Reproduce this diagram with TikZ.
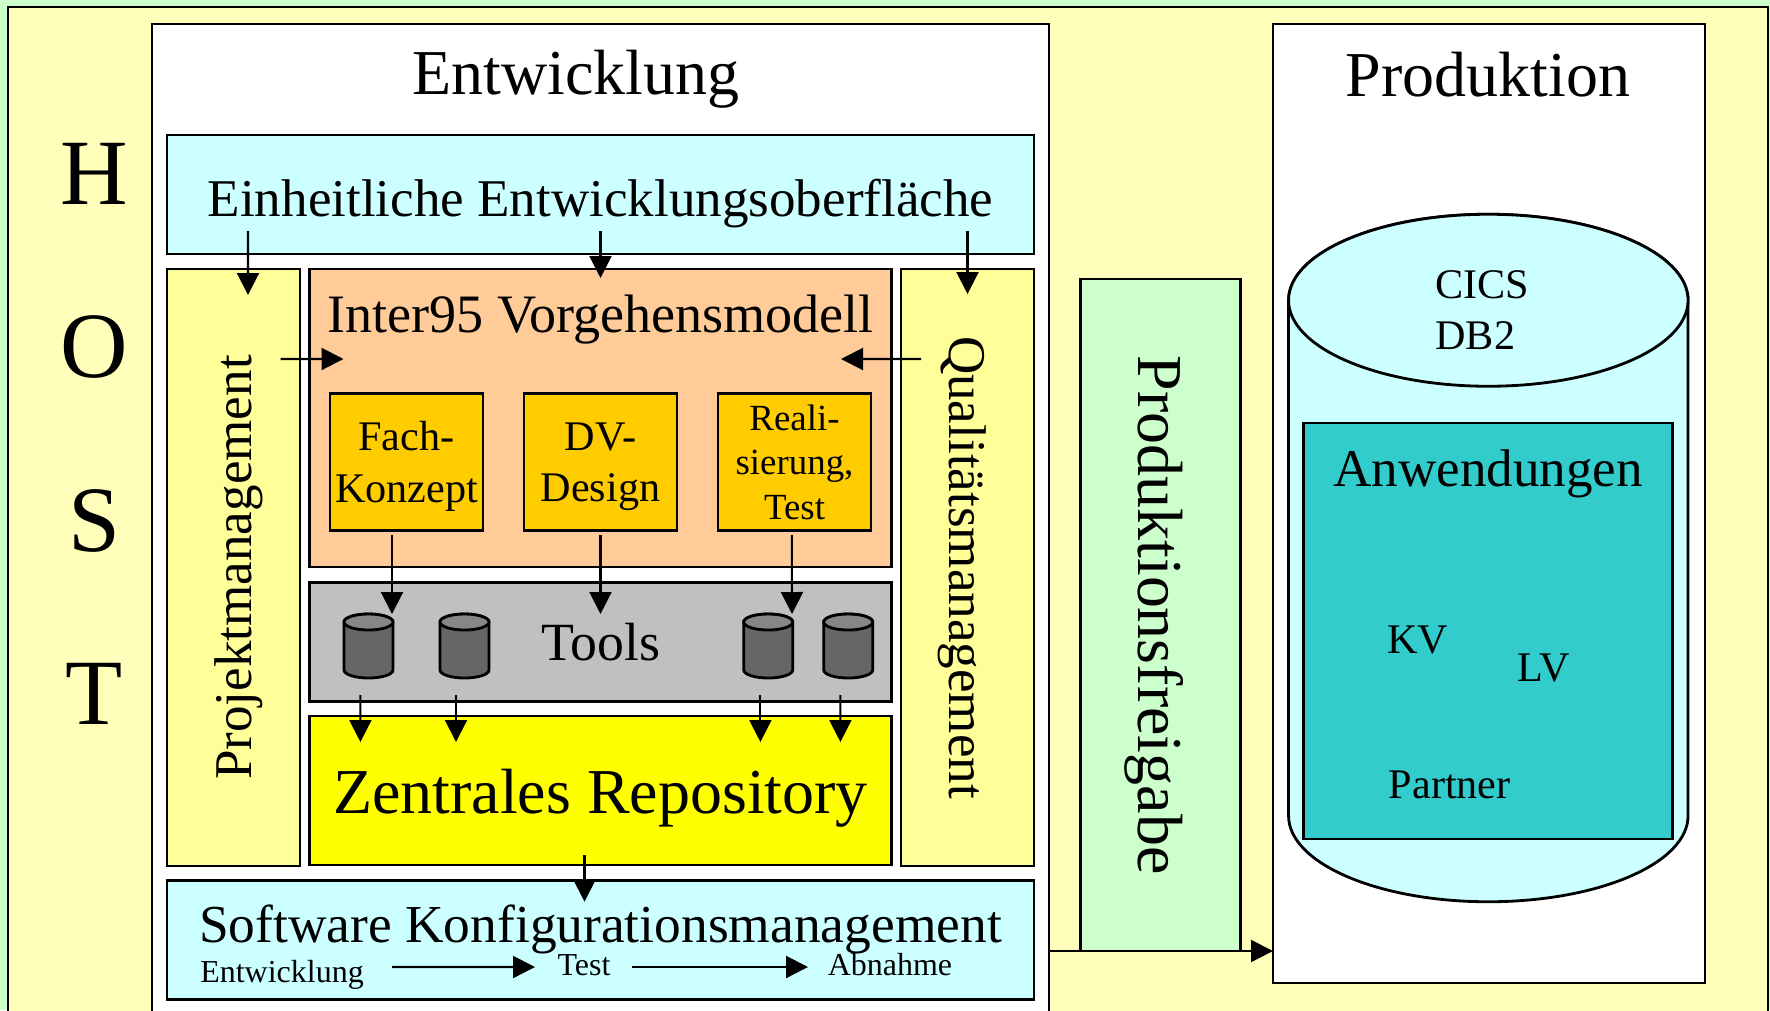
\documentclass[tikz,border=0pt]{standalone}
\usepackage{fontspec}
\setmainfont{Liberation Serif}
\usetikzlibrary{arrows.meta}
\definecolor{mintgreen}{HTML}{CCFFCC}
\definecolor{hostyellow}{HTML}{FFFFBB}
\definecolor{paleblue}{HTML}{CCFFFF}
\definecolor{sideyellow}{HTML}{FFFF99}
\definecolor{modelorange}{HTML}{FFCC99}
\definecolor{phaseorange}{HTML}{FFCC00}
\definecolor{repoyellow}{HTML}{FFFF00}
\definecolor{toolgray}{HTML}{C0C0C0}
\definecolor{drumtop}{HTML}{868686}
\definecolor{drumbody}{HTML}{666666}
\definecolor{appteal}{HTML}{33CCCC}
\newcommand{\sizeletter}{\fontsize{26.6}{30}\selectfont}
\newcommand{\sizelarge}{\fontsize{18.2}{22}\selectfont}
\newcommand{\sizemid}{\fontsize{15.1}{18}\selectfont}
\newcommand{\sizesmall}{\fontsize{12}{14.6}\selectfont}
\newcommand{\sizetiny}{\fontsize{10.5}{12.7}\selectfont}
\newcommand{\sizelabel}{\fontsize{9.1}{11}\selectfont}
\tikzstyle{panel}=[rectangle,draw=black,line width=.8pt,inner sep=0pt,align=center]
\tikzstyle{label}=[inner sep=0pt,align=center]
\tikzstyle{drum}=[rectangle,inner sep=0pt,outer sep=0pt,minimum width=.49cm,minimum height=.64cm]
\tikzstyle{drumline}=[draw=black,line width=.8pt]
\tikzstyle{arrow}=[line width=.6pt,->,>={Triangle[length=.22cm,width=.22cm]}]

\begin{document}
\begin{tikzpicture}[node distance=2cm]
            \clip (0,0) rectangle (17.7,-10.1);
            \fill [mintgreen] (0,0) rectangle (17.7,-10.1);
            \node (host)[panel,fill=hostyellow,minimum width=17.6cm,minimum height=10.23cm] at (8.88,-5.185) {};
            \node (entw)[panel,fill=white,below of=host,xshift=-2.875cm,yshift=1.915cm,minimum width=8.97cm,minimum height=10.06cm]{};
            \node (prod)[panel,fill=white,below of=host,xshift=6.01cm,yshift=2.15cm,minimum width=4.32cm,minimum height=9.59cm]{};
            \node (freigabe)[panel,fill=mintgreen,below of=host,xshift=2.725cm,yshift=1.035cm,rotate=-90,minimum width=6.72cm,minimum height=1.6cm,text depth=0pt,font=\sizelarge]{Produktionsfreigabe};
            % HOST
            \node (letterh)[label,below of=host,xshift=-7.94cm,yshift=5.45cm,font=\sizeletter]{H};
            \node (lettero)[label,below of=letterh,yshift=.265cm,font=\sizeletter]{O};
            \node (letters)[label,below of=lettero,yshift=.265cm,font=\sizeletter]{S};
            \node (lettert)[label,below of=letters,yshift=.265cm,font=\sizeletter]{T};
            % Entwicklung
            \node (entwtitle)[label,below of=entw,xshift=-.245cm,yshift=6.475cm,font=\sizelarge]{Entwicklung};
            \node (ober)[panel,fill=paleblue,below of=entw,yshift=5.325cm,minimum width=8.67cm,minimum height=1.19cm,text height=12.4pt,text depth=0pt,font=\sizemid]{Einheitliche Entwicklungsoberfläche};
            \node (inter)[panel,fill=modelorange,below of=ober,yshift=-.235cm,minimum width=5.825cm,minimum height=2.98cm]{};
            \node (intertitle)[label,below of=inter,yshift=2.98cm,font=\fontsize{15.4}{18}\selectfont]{Inter95 Vorgehensmodell};
            \node (proj)[panel,fill=sideyellow,below of=inter,xshift=-3.67cm,yshift=.505cm,rotate=90,minimum width=5.97cm,minimum height=1.33cm,text height=10.5pt,text depth=0pt,font=\sizemid]{Projektmanagement};
            \node (qual)[panel,fill=sideyellow,below of=inter,xshift=3.67cm,yshift=.505cm,rotate=-90,minimum width=5.97cm,minimum height=1.33cm,text height=10.5pt,text depth=0pt,font=\sizemid]{Qualitätsmanagement};
            \node (dv)[panel,fill=phaseorange,below of=inter,yshift=1.56cm,minimum width=1.53cm,minimum height=1.365cm,text depth=0pt,font=\sizesmall]{DV-\\Design};
            \node (fach)[panel,fill=phaseorange,below of=dv,xshift=-1.94cm,yshift=2cm,minimum width=1.53cm,minimum height=1.365cm,text depth=0pt,font=\sizesmall]{Fach-\\Konzept};
            \node (reali)[panel,fill=phaseorange,below of=dv,xshift=1.94cm,yshift=2cm,minimum width=1.53cm,minimum height=1.365cm,text depth=-1.3pt,font=\sizetiny]{Reali-\\sierung,\\Test};
            \node (tools)[panel,fill=toolgray,below of=inter,yshift=-.24cm,minimum width=5.825cm,minimum height=1.195cm,font=\fontsize{15.3}{18}\selectfont]{Tools};
            \node (drum1)[drum,below of=tools,xshift=-2.32cm,yshift=1.96cm]{};
            \node (drum2)[drum,below of=tools,xshift=-1.36cm,yshift=1.96cm]{};
            \node (drum3)[drum,below of=tools,xshift=1.677cm,yshift=1.96cm]{};
            \node (drum4)[drum,below of=tools,xshift=2.477cm,yshift=1.96cm]{};
            \foreach \d in {drum1,drum2,drum3,drum4}{
                \draw [drumline,fill=drumbody] ([yshift=.24cm]\d.west) -- ([yshift=-.24cm]\d.west) arc (180:360:.245cm and .08cm) -- ([yshift=.24cm]\d.east) arc (0:180:.245cm and .08cm) -- cycle;
                \draw [drumline,fill=drumtop] ([yshift=.24cm]\d.center) ellipse (.245cm and .08cm);
            }
            \node (repo)[panel,fill=repoyellow,below of=tools,yshift=.515cm,minimum width=5.825cm,minimum height=1.49cm,text height=12.8pt,text depth=0pt,font=\sizelarge]{Zentrales Repository};
            \node (config)[panel,fill=paleblue,below of=repo,yshift=.505cm,minimum width=8.67cm,minimum height=1.185cm]{};
            \node (configtitle)[label,below of=config,yshift=2.106cm,font=\fontsize{15.2}{18}\selectfont]{Software Konfigurationsmanagement};
            \node (stepentw)[label,below of=config,xshift=-3.185cm,yshift=1.65cm,font=\sizelabel]{Entwicklung};
            \node (steptest)[label,below of=config,xshift=-.165cm,yshift=1.75cm,font=\sizelabel]{Test};
            \node (stepabn)[label,below of=config,xshift=2.895cm,yshift=1.75cm,font=\sizelabel]{Abnahme};
            % Produktion
            \node (prodtitle)[label,below of=prod,xshift=-.01cm,yshift=6.285cm,font=\sizelarge]{Produktion};
            \node (cics)[drum,below of=prod,xshift=-.007cm,yshift=1.455cm,minimum width=3.995cm,minimum height=6.875cm]{};
            \draw [drumline,fill=paleblue] ([yshift=2.5775cm]cics.west) -- ([yshift=-2.5775cm]cics.west) arc (180:360:1.9975cm and .86cm) -- ([yshift=2.5775cm]cics.east) arc (0:180:1.9975cm and .86cm) -- cycle;
            \draw [drumline,fill=paleblue] ([yshift=2.5775cm]cics.center) ellipse (1.9975cm and .86cm);
            \node (cicstext)[label,align=left,below of=cics,xshift=-.06cm,yshift=4.48cm,font=\sizesmall]{CICS\\DB2};
            \node (anw)[panel,fill=appteal,below of=cics,yshift=1.27cm,minimum width=3.69cm,minimum height=4.16cm]{};
            \node (anwtitle)[label,below of=anw,yshift=3.575cm,font=\sizemid]{Anwendungen};
            \node (kv)[label,below of=anw,xshift=-.705cm,yshift=1.91cm,font=\sizesmall]{KV};
            \node (lv)[label,below of=anw,xshift=.555cm,yshift=1.63cm,font=\sizesmall]{LV};
            \node (partner)[label,below of=anw,xshift=-.385cm,yshift=.465cm,font=\sizesmall]{Partner};
            \draw [arrow] ([xshift=-3.525cm,yshift=-.365cm]ober.center) -- ([xshift=.145cm,yshift=2.725cm]proj.center);
            \draw [arrow] ([yshift=-.365cm]ober.center) -- ([yshift=1.4cm]inter.center);
            \draw [arrow] ([xshift=3.67cm,yshift=-.365cm]ober.center) -- ([yshift=2.735cm]qual.center);
            \draw [arrow] ([xshift=.47cm,yshift=2.085cm]proj.center) -- ([xshift=-2.57cm,yshift=.59cm]inter.center);
            \draw [arrow] ([xshift=-.465cm,yshift=2.085cm]qual.center) -- ([xshift=2.405cm,yshift=.59cm]inter.center);
            \draw [arrow] ([xshift=-.145cm,yshift=-.73cm]fach.center) -- ([xshift=-2.085cm,yshift=.28cm]tools.center);
            \draw [arrow] ([yshift=-.73cm]dv.center) -- ([yshift=.28cm]tools.center);
            \draw [arrow] ([xshift=-.027cm,yshift=-.73cm]reali.center) -- ([xshift=1.915cm,yshift=.28cm]tools.center);
            \draw [arrow] ([xshift=-.081cm,yshift=-.49cm]drum1.center) -- ([xshift=-2.401cm,yshift=.485cm]repo.center);
            \draw [arrow] ([xshift=-.085cm,yshift=-.49cm]drum2.center) -- ([xshift=-1.445cm,yshift=.485cm]repo.center);
            \draw [arrow] ([xshift=-.078cm,yshift=-.49cm]drum3.center) -- ([xshift=1.599cm,yshift=.485cm]repo.center);
            \draw [arrow] ([xshift=-.078cm,yshift=-.49cm]drum4.center) -- ([xshift=2.399cm,yshift=.485cm]repo.center);
            \draw [arrow] ([xshift=-.16cm,yshift=-.645cm]repo.center) -- ([xshift=-.16cm,yshift=.383cm]config.center);
            \draw [arrow] ([xshift=1.1cm,yshift=.08cm]stepentw.center) -- ([xshift=-.49cm,yshift=-.02cm]steptest.center);
            \draw [arrow] ([xshift=.48cm,yshift=-.02cm]steptest.center) -- ([xshift=-.82cm,yshift=-.02cm]stepabn.center);
            \draw [arrow] ([xshift=4.485cm,yshift=-4.24cm]entw.center) -- ([xshift=-2.16cm,yshift=-4.475cm]prod.center);
        \end{tikzpicture}
\end{document}
